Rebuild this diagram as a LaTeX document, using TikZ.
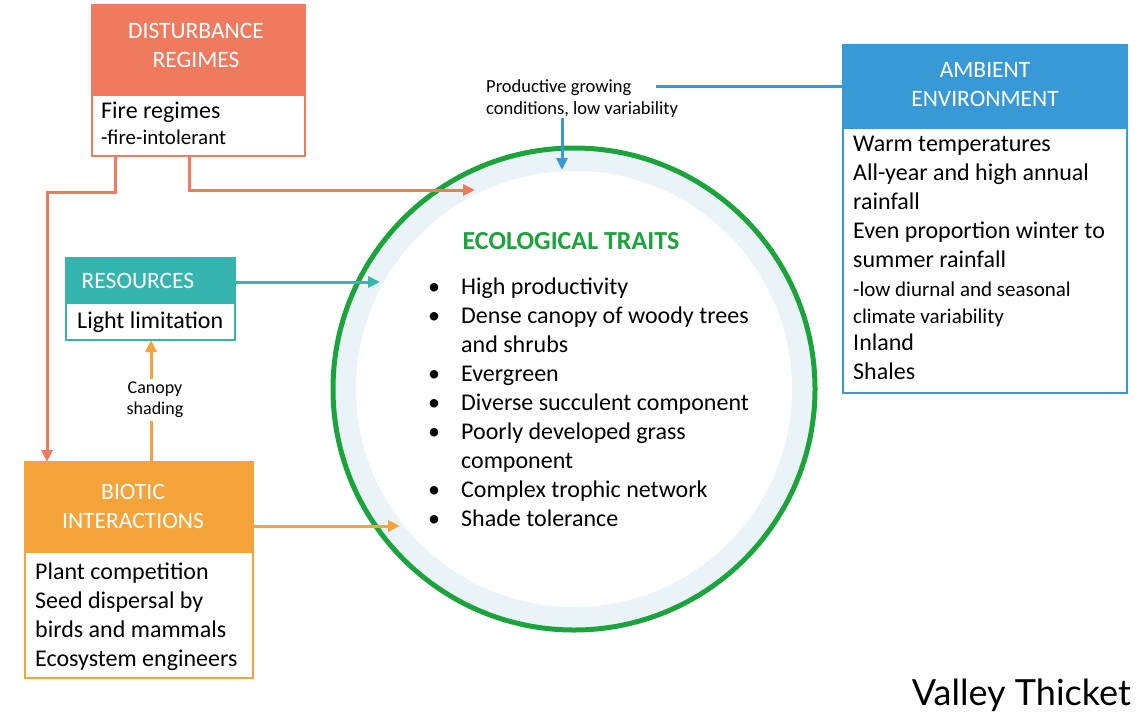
\documentclass[tikz,border=0pt]{standalone}
\usepackage{fontspec}
\setmainfont{Carlito}
\newfontfamily\vtfont{Lato}
\usetikzlibrary{arrows.meta}
\definecolor{dcol}{HTML}{EF7A5E}
\definecolor{acol}{HTML}{3899D6}
\definecolor{rcol}{HTML}{36B5B0}
\definecolor{bcol}{HTML}{F5A33B}
\definecolor{gcol}{HTML}{1BA33C}
\definecolor{ringcol}{HTML}{EAF4F8}
\newcommand{\tlines}[1]{\begin{tabular}[t]{@{}l@{}}#1\end{tabular}}
\tikzset{
  boxshape/.style={anchor=north west, inner sep=0pt, outer sep=0pt, line width=2pt},
  htext/.style={text=white, align=center, font=\fontsize{23.5}{29}\selectfont, inner sep=0pt},
  btext/.style={anchor=base west, font=\fontsize{24}{29}\selectfont, inner sep=0pt},
  stext/.style={anchor=base west, font=\fontsize{21}{27}\selectfont, inner sep=0pt},
  conn/.style={line width=3pt},
  tip/.style={-{Triangle[length=12pt,width=11pt]}},
}
\begin{document}
\begin{tikzpicture}[x=1pt,y=-1pt]
\useasboundingbox (0,0) rectangle (1147,720);

% Ecological traits circle
\node[circle, draw=gcol, fill=ringcol, line width=5pt, minimum size=482pt, inner sep=0pt] (eco) at (574,389) {};
\node[circle, fill=white, minimum size=436pt, inner sep=0pt] (ecoin) at (574,389) {};
\node[anchor=base, text=gcol, font=\fontsize{26}{29}\selectfont\bfseries, inner sep=0pt] (ecot) at (571,249) {ECOLOGICAL TRAITS};
\node[anchor=base west, inner sep=0pt, font=\fontsize{24}{29}\selectfont] (ecol) at (428,294) {%
\begin{tabular}[t]{@{}p{33pt}@{}l@{}}
\textbullet & High productivity\\
\textbullet & Dense canopy of woody trees\\
 & and shrubs\\
\textbullet & Evergreen\\
\textbullet & Diverse succulent component\\
\textbullet & Poorly developed grass\\
 & component\\
\textbullet & Complex trophic network\\
\textbullet & Shade tolerance
\end{tabular}};

% Disturbance regimes
\node[boxshape, draw=dcol, fill=dcol, minimum width=213pt, minimum height=90pt] (dh) at (92,5) {};
\node[boxshape, draw=dcol, fill=white, minimum width=213pt, minimum height=61pt] (db) at (92,95) {};
\node[htext] (dht) at (196,45) {DISTURBANCE\\REGIMES};
\node[btext] (dbt1) at (101,118) {Fire regimes};
\node[stext] (dbt2) at (101,144) {-fire-intolerant};

% Ambient environment
\node[boxshape, draw=acol, fill=acol, minimum width=284pt, minimum height=83pt] (ah) at (843,45) {};
\node[boxshape, draw=acol, fill=white, minimum width=284pt, minimum height=265pt] (ab) at (843,128) {};
\node[htext] (aht) at (985,85) {AMBIENT\\ENVIRONMENT};
\node[btext] (abt1) at (853,151) {\tlines{Warm temperatures\\All-year and high annual\\rainfall\\Even proportion winter to\\summer rainfall}};
\node[stext] (abt2) at (853,296) {\tlines{-low diurnal and seasonal\\climate variability}};
\node[btext] (abt3) at (853,350) {\tlines{Inland\\Shales}};

% Resources
\node[boxshape, draw=rcol, fill=rcol, minimum width=169pt, minimum height=45pt] (rh) at (66,258) {};
\node[boxshape, draw=rcol, fill=white, minimum width=169pt, minimum height=37pt] (rb) at (66,303) {};
\node[htext] (rht) at (138,281) {RESOURCES};
\node[btext] (rbt) at (77,328) {Light limitation};

% Biotic interactions
\node[boxshape, draw=bcol, fill=bcol, minimum width=228pt, minimum height=90pt] (bh) at (25,462) {};
\node[boxshape, draw=bcol, fill=white, minimum width=228pt, minimum height=126pt] (bb) at (25,552) {};
\node[htext] (bht) at (133,506) {BIOTIC\\INTERACTIONS};
\node[btext] (bbt) at (35,579) {\tlines{Plant competition\\Seed dispersal by\\birds and mammals\\Ecosystem engineers}};

% Labels
\node[anchor=base west, inner sep=0pt, font=\fontsize{18.5}{22}\selectfont] (pgl) at (486,92) {\tlines{Productive growing\\conditions, low variability}};
\node[align=center, font=\fontsize{18}{21}\selectfont, inner sep=3pt, fill=white] (csl) at (155,400) {Canopy\\shading};

% Connector end points
\coordinate (dE) at (475,190);
\coordinate (tE) at (380,282);
\coordinate (oE) at (400,526);
\coordinate (bE) at (562,170);
\coordinate (bL) at (656,86);
\coordinate (pgx) at (562,118);

% Connectors
\draw[conn, dcol, tip] ([xshift=23pt]db.south west) -- ++(0,36) -| ([xshift=22pt]bh.north west);
\draw[conn, dcol, tip] ([xshift=97pt]db.south west) |- (dE);
\draw[conn, rcol, tip] (rh.east |- tE) -- (tE);
\draw[conn, bcol, tip] (bh.east |- oE) -- (oE);
\draw[conn, acol] (ah.west) -- (ah.west -| bL);
\draw[conn, acol, tip] (pgx) -- (bE);
\draw[conn, bcol] (bh.north -| 151,0) -- (csl.south -| 151,0);
\draw[conn, bcol, tip] (csl.north -| 151,0) -- (rb.south -| 151,0);

% Title
\node[anchor=base east, font=\vtfont\fontsize{36}{40}\selectfont, inner sep=0pt] (vt) at (1131,705) {Valley Thicket};
\end{tikzpicture}
\end{document}
